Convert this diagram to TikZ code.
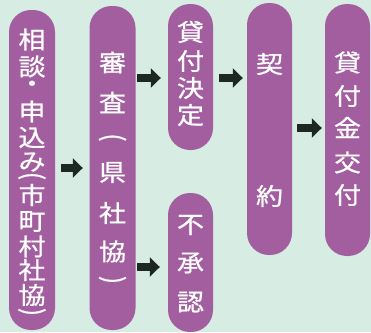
\documentclass[tikz,border=0pt]{standalone}
\usepackage{graphicx}
\usepackage{fontspec}
\newfontfamily\jp[FakeBold=0.8]{Noto Sans CJK JP}
\usetikzlibrary{arrows.meta}
\definecolor{bg}{HTML}{D7ECE2}
\definecolor{pp}{HTML}{A35E9F}
\definecolor{ar}{HTML}{1E2823}
\newcommand\vc[1]{\scalebox{1}[0.88]{#1}}
\newcommand\po{\rotatebox{-90}{(}}
\newcommand\pc{\rotatebox{-90}{)}}
\begin{document}
\begin{tikzpicture}[x=1pt,y=-1pt,
  box/.style={fill=pp, rounded corners=22pt, minimum width=45pt, inner sep=0pt},
  ch/.style={text=white, font=\jp\fontsize{27}{27}\selectfont, inner sep=0pt, anchor=center},
  arr/.style={draw=ar, line width=8pt, -{Triangle[length=10pt,width=19pt]}}]
\fill[bg] (0,0) rectangle (371,332);
\useasboundingbox (0,0) rectangle (371,332);
% boxes
\node[box, minimum width=46pt, minimum height=320pt] (b1) at (32,170) {};
\node[box, minimum width=46pt, minimum height=324pt] (b2) at (112.5,168) {};
\node[box, minimum height=146pt] (b3) at (190.5,77) {};
\node[box, minimum height=139pt] (b4) at (190.5,262.5) {};
\node[box, minimum height=252pt] (b5) at (269.5,129) {};
\node[box, minimum height=252pt] (b6) at (347.5,130) {};
% texts
\foreach \c/\y [count=\i] in {相/39.5,談/66.5,・/86.5,申/111.5,込/137.5,み/162,\po/176,市/195,町/221.5,村/246.5,社/270,協/295,\pc/312}
  \node[ch] (ta\i) at (32,\y) {\vc{\c}};
\foreach \c/\y [count=\i] in {審/62.5,査/102.5,\po/137.5,県/172.5,社/213,協/251.5,\pc/280}
  \node[ch] (tb\i) at (112.5,\y) {\vc{\c}};
\foreach \c/\y [count=\i] in {貸/32,付/61,決/88,定/115}
  \node[ch] (tc\i) at (190.5,\y) {\vc{\c}};
\foreach \c/\y [count=\i] in {不/225,承/263,認/302}
  \node[ch] (td\i) at (190.5,\y) {\vc{\c}};
\foreach \c/\y [count=\i] in {契/64,約/196}
  \node[ch] (te\i) at (269.5,\y) {\vc{\c}};
\foreach \c/\y [count=\i] in {貸/62.5,付/96,金/127.5,交/162.5,付/195}
  \node[ch] (tf\i) at (347.5,\y) {\vc{\c}};
% arrow levels
\coordinate (r1) at (0,168);
\coordinate (r2) at (0,78);
\coordinate (r3) at (0,267);
\coordinate (r4) at (0,128);
\draw[arr, shorten <=6pt, shorten >=6.5pt] (b1.east |- r1) -- (b2.west |- r1);
\draw[arr, shorten <=1.5pt, shorten >=7pt] (b2.east |- r2) -- (b3.west |- r2);
\draw[arr, shorten <=1.5pt, shorten >=8pt] (b2.east |- r3) -- (b4.west |- r3);
\draw[arr, shorten <=6pt, shorten >=4pt] (b3.east |- r2) -- (b5.west |- r2);
\draw[arr, shorten <=5pt, shorten >=3pt] (b5.east |- r4) -- (b6.west |- r4);
\end{tikzpicture}
\end{document}
